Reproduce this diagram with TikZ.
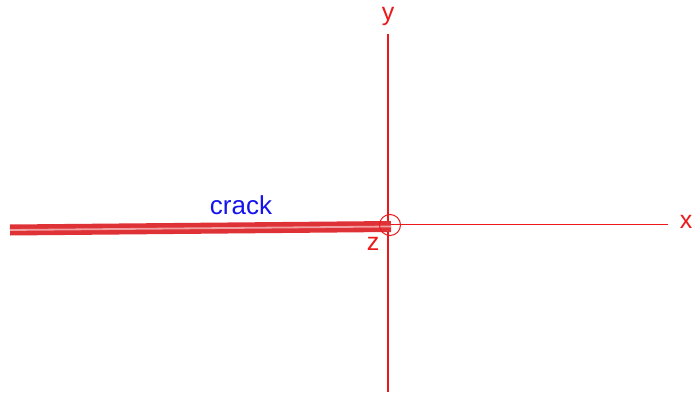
\documentclass[tikz,border=0pt]{standalone}
\usepackage{fontspec}
\setmainfont{Liberation Sans}
\definecolor{axred}{RGB}{235,25,25}
\definecolor{crackred}{RGB}{222,50,55}
\definecolor{lightred}{RGB}{240,160,160}
\definecolor{lblblue}{RGB}{20,20,235}
\tikzset{
  axis/.style={draw=axred, line width=1.1pt},
  lbl/.style={text=axred, font=\fontsize{25}{27}\selectfont, inner sep=0pt},
}
\begin{document}
\begin{tikzpicture}[x=1pt,y=-1pt]
\useasboundingbox (0,0) rectangle (693,396);
\coordinate (o) at (388,224.5);
\coordinate (ytop) at (388,34);
\coordinate (ybot) at (388,392);
\coordinate (xend) at (668,224.5);
\coordinate (cl) at (10,230);
\coordinate (cr) at (391,226.5);
\draw[axis] (ytop) -- (ybot);
\draw[axis] (o) -- (xend);
\draw[crackred, line width=11pt] (cl) -- (cr);
\draw[lightred, line width=1.8pt] (cl) -- (cr);
\draw[axred, line width=1pt] (390,225) circle (10.5);
\node[lbl] (ylbl) at (388,16) {y};
\node[lbl] (xlbl) at (686,222) {x};
\node[lbl] (zlbl) at (373,244) {z};
\node[text=lblblue, font=\fontsize{26}{28}\selectfont, inner sep=0pt] (crack) at (241,205) {crack};
\end{tikzpicture}
\end{document}
